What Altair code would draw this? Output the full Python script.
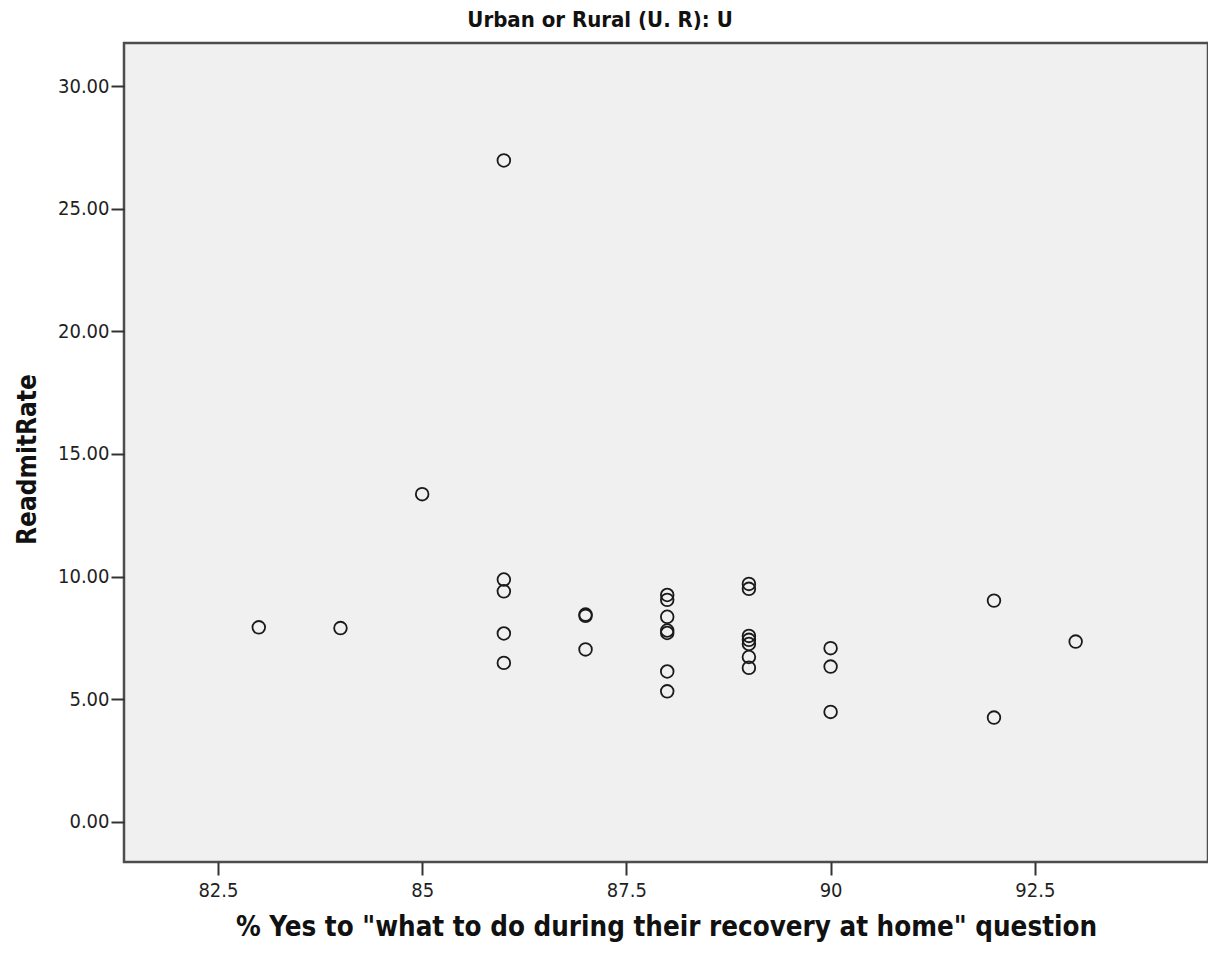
import altair as alt
import pandas as pd

pct_yes = [83, 84, 85,
           86, 86, 86, 86, 86,
           87, 87, 87,
           88, 88, 88, 88, 88, 88, 88,
           89, 89, 89, 89, 89, 89, 89,
           90, 90, 90,
           92, 92,
           93]
readmit = [7.93, 7.90, 13.36,
           26.97, 9.88, 9.40, 7.68, 6.48,
           8.45, 8.40, 7.03,
           9.25, 9.05, 8.36, 7.80, 7.70, 6.13, 5.32,
           9.70, 9.50, 7.58, 7.42, 7.25, 6.72, 6.28,
           7.08, 6.33, 4.48,
           9.02, 4.25,
           7.35]
x_ticks = [82.5, 85, 87.5, 90, 92.5]
y_ticks = [0, 5, 10, 15, 20, 25, 30]

df = pd.DataFrame({"x": pct_yes, "y": readmit})

FONT = "Liberation Sans Narrow, DejaVu Sans Condensed, Liberation Sans, Arial, sans-serif"

chart = alt.Chart(df).mark_point(
    shape="circle", filled=False, size=160, stroke="#1a1a1a", strokeWidth=1.8, opacity=1
).encode(
    x=alt.X("x:Q", scale=alt.Scale(domain=[81.35, 94.62], nice=False, zero=False),
            axis=alt.Axis(values=x_ticks, format=".1~f",
                          title="% Yes to \"what to do during their recovery at home\" question",
                          labelFontSize=20, titleFontSize=27.5, titleFontWeight="bold",
                          titlePadding=13, labelPadding=5, grid=False, domain=False,
                          tickSize=13, tickColor="#333", tickWidth=2, labelColor="#1f1f1f",
                          titleColor="#111")),
    y=alt.Y("y:Q", scale=alt.Scale(domain=[-1.64, 31.76], nice=False, zero=False),
            axis=alt.Axis(values=y_ticks, format=".2f", title="ReadmitRate",
                          labelFontSize=20, titleFontSize=26, titleFontWeight="bold",
                          grid=False, domain=False, tickSize=13, tickColor="#333", tickWidth=2,
                          labelPadding=2, labelColor="#1f1f1f", titleColor="#111",
                          titleX=-89, titleY=416, titleBaseline="alphabetic")),
).properties(
    width=1084, height=819,
    title=alt.TitleParams("Urban or Rural (U. R): U", anchor="middle", dx=-66,
                          fontSize=22, fontWeight="bold", color="#111", offset=11),
    padding={"left": 116, "top": 35, "right": 0, "bottom": 80},
    autosize="none",
).configure(
    font=FONT
).configure_view(
    fill="#F0F0F0", stroke="#4d4d4d", strokeWidth=2.5
)

chart.save("out.html", embed_options={"renderer": "svg", "actions": False})
